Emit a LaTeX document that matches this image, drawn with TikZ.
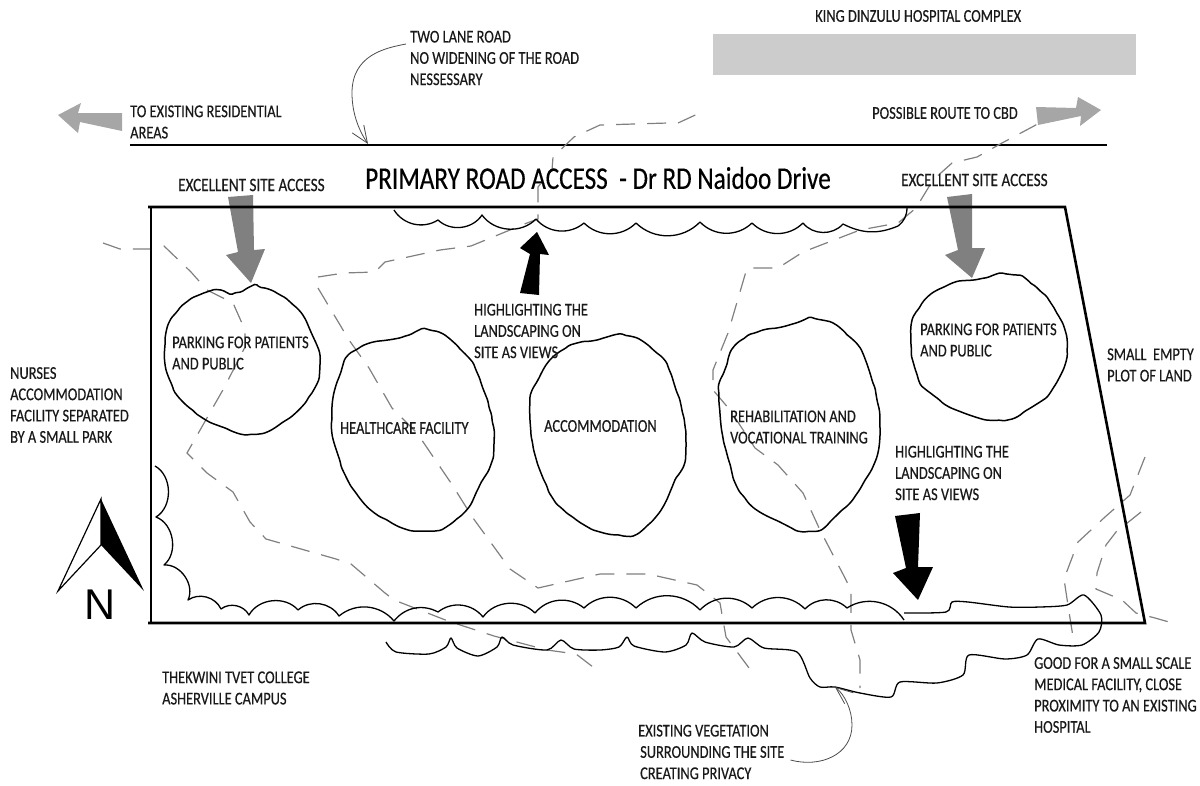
\documentclass[tikz,border=0pt]{standalone}
\usepackage{fontspec}
\usepackage{tikz}
\usetikzlibrary{arrows.meta,decorations.pathmorphing}
\setmainfont[FakeStretch=0.8,FakeBold=0.4]{Carlito}
\newfontfamily\northfont{Liberation Sans}
\tikzset{>={Straight Barb[length=17pt,width=14pt]}}
\tikzset{
  note/.style={anchor=west,align=left,inner sep=0pt,text=black!90,font=\fontsize{18}{21.3}\selectfont},
  blob/.style={draw,line width=1.5pt,decorate,decoration={random steps,segment length=7pt,amplitude=.5pt},rounded corners=1.5pt},
  hedge/.style={draw,line width=1.3pt,line join=round},
  sightline/.style={draw,black!50,line width=1.2pt,dash pattern=on 19pt off 12pt},
  callout/.style={draw,black!70,line width=.8pt,->},
  siteline/.style={draw,line width=2.6pt,line join=miter}
}

\begin{document}
\begin{tikzpicture}[x=1pt,y=-1pt]
  \useasboundingbox (0,0) rectangle (1200,785);

  % hospital and road
  \fill[black!20] (713,34) rectangle (1136,75);
  \draw[line width=1.8pt] (130,145) -- (1107,145);

  % sight lines
  \draw[sightline] plot coordinates {(103,243) (120,249) (151,249) (164,246) (191,272) (207,290) (233,303) (245,330) (245,347) (224,388) (187,453) (207,473) (233,492) (250,522) (266,539) (336,559) (351,564) (385,593) (394,600) (448,621) (494,636) (547,650) (576,654) (593,667)};
  \draw[sightline] plot coordinates {(318,288) (349,340) (369,368) (392,408) (417,433) (451,483) (473,518) (510,569) (538,588) (600,574) (648,574) (697,585) (720,603) (726,637) (755,676)};
  \draw[sightline] plot coordinates {(318,277) (344,273) (375,272) (385,262) (440,250) (471,246) (527,223) (538,219) (538,187) (552,170) (553,157) (574,137) (600,125) (668,123) (678,123) (704,111)};
  \draw[sightline] plot coordinates {(1063,109) (1034,126) (1002,143) (977,157) (952,163) (933,180) (916,208) (898,223) (860,230) (803,252) (778,268) (747,268) (728,333) (713,370) (713,390) (730,410) (755,448) (778,465) (803,493) (820,530) (845,578) (851,590) (851,630) (860,660) (860,688)};
  \draw[sightline] plot coordinates {(1145,457) (1130,495) (1105,517) (1078,542) (1064,579) (1069,612) (1074,643)};
  \draw[sightline] plot coordinates {(1141,512) (1116,532) (1106,545) (1097,573) (1096,589) (1122,600) (1136,613) (1155,618) (1176,624)};

  % gray and black arrows
  \fill[black!35] (58,115) -- (81,103) -- (78,113) -- (122,113) -- (122,131) -- (80,122) -- (78,133) -- cycle;
  \fill[black!35] (1036,107) -- (1076,108) -- (1078,97) -- (1101,110) -- (1080,126) -- (1081,116) -- (1038,125) -- cycle;
  \fill[black!50] (228,197) -- (253,195) -- (254,250) -- (265,249) -- (251,283) -- (226,255) -- (238,252) -- cycle;
  \fill[black!50] (947,197) -- (972,194) -- (972,248) -- (985,248) -- (972,278) -- (945,255) -- (958,250) -- cycle;
  \fill (537,232) -- (549,255) -- (540,254) -- (539,295) -- (520,293) -- (530,254) -- (520,248) -- cycle;
  \fill (895,516) -- (920,513) -- (918,567) -- (933,567) -- (918,600) -- (893,573) -- (906,568) -- cycle;

  % site boundary
  \draw[siteline] (148,207) -- (1065,207) -- (1145,623) -- (148,623);
  \draw[siteline] (151,207) -- (151,623);

  % buildings
  \draw[blob] plot[smooth cycle,tension=.8] coordinates {(258,287) (291,303) (310,330) (320,363) (310,395) (283,422) (254,434) (225,428) (195,412) (172,385) (165,347) (176,313) (207,292) (233,293)};
  \draw[blob] plot[smooth cycle,tension=.8] coordinates {(429,330) (458,347) (480,380) (494,442) (480,485) (459,517) (427,531) (387,520) (356,493) (337,452) (332,418) (338,380) (356,350) (402,337)};
  \draw[blob] plot[smooth cycle,tension=.8] coordinates {(623,335) (650,347) (672,377) (686,445) (673,485) (650,523) (621,535) (574,518) (543,478) (530,418) (538,380) (563,350) (600,339)};
  \draw[blob] plot[smooth cycle,tension=.8] coordinates {(816,319) (845,333) (868,367) (880,435) (864,482) (837,515) (812,531) (780,522) (745,498) (728,458) (719,402) (724,372) (742,340) (789,325)};
  \draw[blob] plot[smooth cycle,tension=.8] coordinates {(1006,274) (1029,282) (1055,310) (1067,347) (1055,385) (1032,407) (1002,420) (964,413) (933,395) (918,377) (911,340) (918,310) (944,287) (979,279)};

  % vegetation
  \draw[hedge] (394,210) to[bend right=45] (438,220) to[bend right=50] (482,215) to[bend right=50] (536,219) to[bend right=45] (584,223) to[bend right=45] (636,223) to[bend right=45] (700,222) to[bend right=45] (752,223) to[bend right=45] (803,223) to[bend right=50] (843,224) to[bend right=25] (898,226) to[bend right=25] (907,208);
  \draw[hedge] (155,466) to[bend left=60] (156,517) to[bend left=60] (164,565) to[bend left=60] (188,600) to[bend left=50] (221,609) to[bend left=50] (249,615) to[bend left=55] (298,610) to[bend left=50] (339,616) to[bend left=45] (394,621) to[bend left=40] (438,612) to[bend left=45] (483,617) to[bend left=50] (535,613) to[bend left=45] (584,608) to[bend left=45] (636,608) to[bend left=45] (700,610) to[bend left=45] (752,608) to[bend left=45] (805,609) to[bend left=45] (847,608) to[bend left=45] (904,620);
  \draw[hedge] plot[smooth,tension=.45] coordinates {(386,642) (396,652) (429,654) (446,647) (451,638) (457,648) (478,656) (497,647) (502,637) (513,645) (547,650) (561,640) (574,649) (600,650) (619,647) (627,637) (634,646) (665,652) (686,645) (692,633) (705,642) (734,647) (748,638) (764,648) (797,652) (810,678) (820,687) (835,687) (860,693) (891,697) (900,682) (937,683) (963,675) (969,655) (1005,659) (1027,655) (1038,639) (1059,645) (1082,645) (1099,632) (1101,615) (1084,595) (1067,605) (1040,607) (1009,607) (968,602) (952,602) (946,612) (904,613)};

  % north arrow
  \draw[fill=white,line width=1.2pt,line join=miter] (101,499) -- (58,591) -- (101,545) -- cycle;
  \fill (101,499) -- (144,591) -- (101,545) -- cycle;
  \node[inner sep=0pt,font=\fontsize{43}{43}\selectfont\northfont] (north) at (100,605) {N};

  % labels
  \node[note] (lanelabel) at (410,58) {TWO LANE ROAD\\NO WIDENING OF THE ROAD\\NESSESSARY};
  \node[note] (residential) at (130,122) {TO EXISTING RESIDENTIAL\\AREAS};
  \node[note] (hospital) at (815,16) {KING DINZULU HOSPITAL COMPLEX};
  \node[note] (cbd) at (872,113) {POSSIBLE ROUTE TO CBD};
  \node[note,text=black,font=\fontsize{31.5}{32}\selectfont] (roadtitle) at (365,178) {PRIMARY ROAD ACCESS\ \ - Dr RD Naidoo Drive};
  \node[note,font=\fontsize{19}{21.3}\selectfont] (accessleft) at (178,185) {EXCELLENT SITE ACCESS};
  \node[note,font=\fontsize{19}{21.3}\selectfont] (accessright) at (901,180) {EXCELLENT SITE ACCESS};
  \node[note] (viewstop) at (474,331) {HIGHLIGHTING THE\\LANDSCAPING ON\\SITE AS VIEWS};
  \node[note] (nurses) at (10,405) {NURSES\\ACCOMMODATION\\FACILITY SEPARATED\\BY A SMALL PARK};
  \node[note] (parkingleft) at (172,353) {PARKING FOR PATIENTS\\AND PUBLIC};
  \node[note] (healthcare) at (340,428) {HEALTHCARE FACILITY};
  \node[note] (accommodation) at (544,426) {ACCOMMODATION};
  \node[note] (rehab) at (730,427) {REHABILITATION AND\\VOCATIONAL TRAINING};
  \node[note] (parkingright) at (920,340) {PARKING FOR PATIENTS\\AND PUBLIC};
  \node[note] (emptyplot) at (1107,365) {SMALL\ \ EMPTY\\PLOT OF LAND};
  \node[note] (viewsbottom) at (895,473) {HIGHLIGHTING THE\\LANDSCAPING ON\\SITE AS VIEWS};
  \node[note] (college) at (162,688) {THEKWINI TVET COLLEGE\\ASHERVILLE CAMPUS};
  \node[note] (existing) at (638,752) {EXISTING VEGETATION\\\hspace*{2pt}SURROUNDING THE SITE\\\hspace*{2pt}CREATING PRIVACY};
  \node[note] (smallscale) at (1034,695) {GOOD FOR A SMALL SCALE\\MEDICAL FACILITY, CLOSE\\PROXIMITY TO AN EXISTING\\HOSPITAL};

  % callouts
  \coordinate (roadpoint) at (368,144);
  \coordinate (hedgepoint) at (835,687);
  \draw[callout] (lanelabel.west) ++(-4,-14) .. controls (385,48) and (352,55) .. (352,93) .. controls (352,115) and (360,132) .. (roadpoint);
  \draw[callout] (existing.east) ++(6,8) .. controls (820,768) and (852,755) .. (852,725) .. controls (852,710) and (845,695) .. (hedgepoint);

\end{tikzpicture}
\end{document}
